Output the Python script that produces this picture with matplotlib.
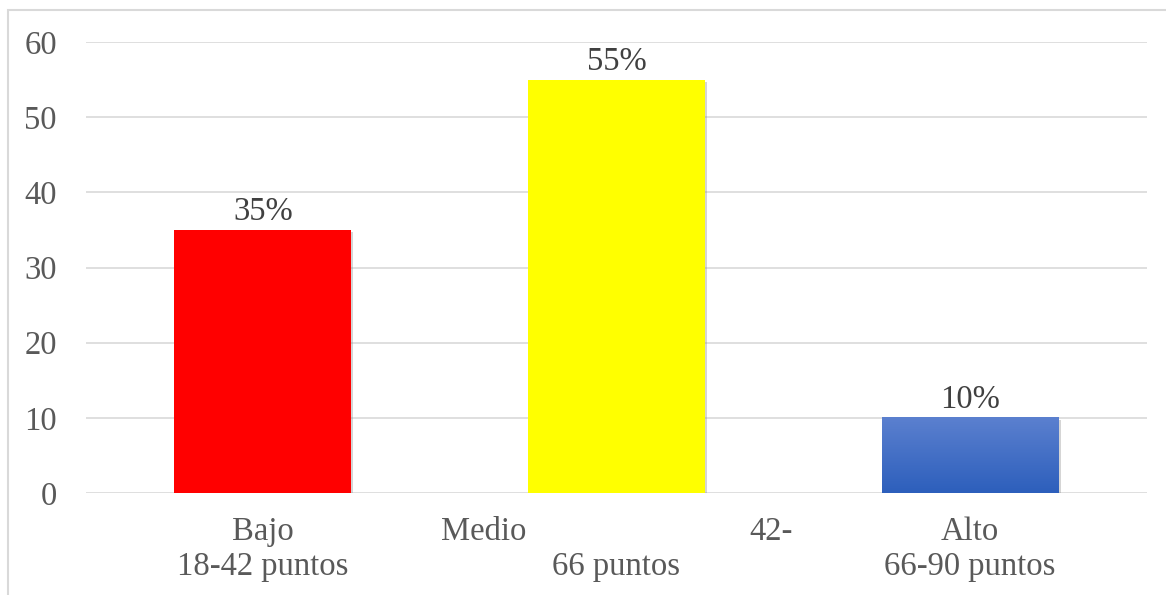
import numpy as np
import matplotlib.pyplot as plt
import matplotlib.patheffects as pe
from matplotlib.colors import LinearSegmentedColormap
from matplotlib.transforms import blended_transform_factory

categories = ["Bajo\n18-42 puntos", "\n66 puntos", "Alto\n66-90 puntos"]
values = [35, 55, 10]
labels = ["35%", "55%", "10%"]
colors = ["#ff0000", "#ffff00", "#4472c4"]

plt.rcParams['font.family'] = ['Liberation Serif', 'DejaVu Serif']
gray = "#595959"
fs = 23.5

fig = plt.figure(figsize=(11.66, 5.95), dpi=100)
ax = fig.add_axes([86 / 1166, 1 - 493 / 595, (1147 - 86) / 1166, (493 - 42) / 595])

x = np.arange(len(values))
shadow = [pe.SimplePatchShadow(offset=(1.5, -1.5), shadow_rgbFace="#888888", alpha=0.35),
          pe.Normal()]
bars = ax.bar(x, values, width=0.5, color=colors, zorder=3)
for b in bars:
    b.set_path_effects(shadow)

# gradient on the blue bar
blue = bars[2]
bx, by = blue.get_x(), blue.get_y()
bw, bh = blue.get_width(), blue.get_height()
cmap = LinearSegmentedColormap.from_list("b", ["#2d5fbc", "#5b80cf"])
grad = np.linspace(0, 1, 100).reshape(-1, 1)
ax.imshow(grad, cmap=cmap, origin="lower", aspect="auto",
          extent=[bx, bx + bw, by, by + bh], zorder=4)

ax.set_xlim(-0.5, 2.5)
ax.set_ylim(0, 60)

# data labels sit just above the bars, kept inside the plot area
for xi, v, lab in zip(x, values, labels):
    ax.text(xi, min(v + 1.3, 57.9), lab, ha="center", va="baseline",
            fontsize=fs, color="#404040", zorder=5)

ax.set_yticks(range(0, 61, 10))
ax.set_xticks(x)
ax.set_xticklabels(categories, fontsize=fs, color=gray, linespacing=1.2)
ax.tick_params(axis="both", length=0, labelsize=fs, labelcolor=gray)
ax.tick_params(axis="y", pad=21)
ax.tick_params(axis="x", pad=17)
ax.grid(axis="y", color="#d9d9d9", linewidth=1.2, zorder=0)
for s in ax.spines.values():
    s.set_visible(False)

# first line of the middle category label, split across the slot
tl = ax.get_xticklabels()[0]
trans = blended_transform_factory(ax.transData, ax.transAxes)
fig.canvas.draw()
bb = tl.get_window_extent()
y_top = ax.transAxes.inverted().transform((0, bb.y1))[1]
ax.text(0.624, y_top, "Medio", transform=trans, ha="center", va="top",
        fontsize=fs, color=gray)
ax.text(1.438, y_top, "42-", transform=trans, ha="center", va="top",
        fontsize=fs, color=gray)

# outer frame
fig.patches.append(plt.Rectangle((8 / 1166, -0.01), 1.02, 1 - 10 / 595 + 0.01,
                                 transform=fig.transFigure, fill=False,
                                 edgecolor="#d9d9d9", linewidth=1.5))

fig.savefig("out.png", dpi=100)
